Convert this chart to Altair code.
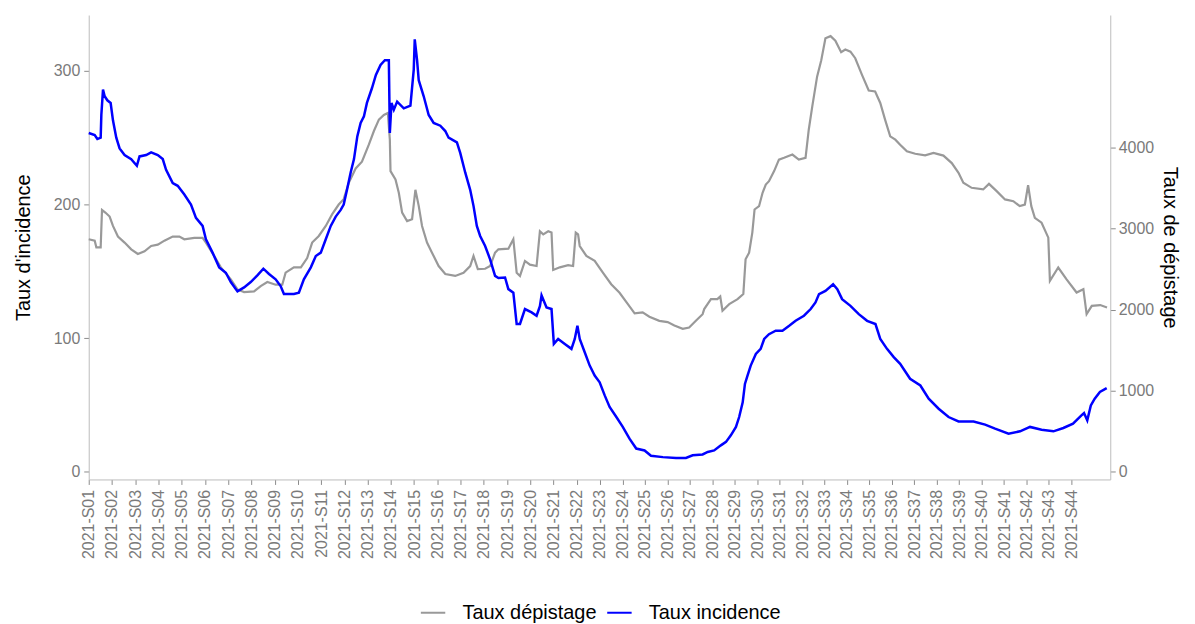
import altair as alt
import pandas as pd

# --- Données (jour 0 = début de 2021-S01) ---
jours_incidence = [0,1.8,2.6,3.6,3.8,4.3,4.8,5.6,6.6,7.3,
    8.3,9.3,10.8,12.8,14.5,15.3,17.3,18.8,20.8,22.3,
    23.3,25.3,26.8,28.8,30.8,32.3,34.3,35.3,37.3,39.3,
    41.3,42.8,44.8,46.8,48.8,50.8,52.6,54.3,56.3,57.8,
    58.8,61.8,63.3,64.8,66.9,68.4,69.9,71.4,72.9,74.4,
    75.9,76.8,77.8,78.9,79.9,80.9,81.9,82.9,83.8,85.3,
    86.5,87.9,89.2,90.4,90.7,91.2,91.9,92.9,94.9,96.9,
    97.9,98.2,98.9,99.4,100.9,102.4,103.9,105.9,107.4,108.4,
    110.9,111.9,113.4,114.9,115.9,116.9,117.9,119.4,120.9,122.4,
    123.4,125.4,126.4,127.9,128.9,129.9,131.4,133.4,134.9,135.9,
    136.4,137.9,139.4,140.1,141.4,143.4,145.4,146.4,147.2,147.9,
    149.4,150.9,152.4,153.9,155.5,157.0,159.1,161.1,163.2,165.3,
    167.9,169.9,173.6,177.7,180.8,182.9,186.0,187.6,189.6,191.7,
    193.3,194.8,196.4,197.4,198.5,199.2,200.0,201.0,202.6,204.1,
    205.2,206.7,208.8,210.9,213.0,215.0,217.6,219.7,221.2,222.3,
    224.3,226.7,228.0,229.5,232.1,234.7,237.3,239.9,241.4,243.5,
    245.6,247.6,250.7,253.9,256.5,259.6,262.7,265.8,270.5,274.1,
    277.2,281.4,285.0,288.1,291.7,295.4,298.5,301.5,304.1,304.9,
    305.9,307.0,308.2,309.8,311.9]
taux_incidence = [253.5,252,249,250,267,286,281,278,276,263,
    250,242,237,234,229,236,237,239,237,234,
    226,216,214,207.5,200,190,184,174,164,153,
    149,142,135,138,142,147,152,148,144,139,
    133,133,134,144,153,161.5,164,174,184,191,
    196,200,211,224,234,251,261,266,276,287,
    297,304.5,308,308,253.5,276,271,277,272,274,
    301,323.6,308,293,281,267,261,259,255,250,
    246.5,238.6,224,211,199,184,176.5,169,159,146.6,
    145,145.4,136.7,134,110.6,110.6,121.8,119.3,116.8,124,
    132,123,121.8,95.7,99.4,95.7,92,99.4,109.3,99.4,
    89.5,79.5,72,67,57,48.5,41,33.6,24.8,17.4,
    16,12,11,10.4,10.4,12.4,13,14.9,16,19.8,
    22.4,27.3,33.6,41,52,65.8,72,79.5,88.2,92,
    99.4,103,105.6,105.6,109.3,113,116.8,121.8,126.8,133,
    135.4,140.4,136.7,129.2,124.2,118,113,110.6,99.4,92,
    85.8,80.8,69.6,64.6,54.7,47.2,41,37.7,37.7,35.3,
    32.3,28.6,30.3,33.6,31.5,30.3,32.8,36,42.2,44,
    38.5,49.7,54.7,59.7,62.6]

jours_depistage = [0,1.8,2.3,3.6,4.0,5.0,6.3,7.3,8.8,10.8,
    12.8,14.8,16.8,18.8,20.8,22.8,25.3,27.3,28.8,31.8,
    34.3,35.3,37.8,39.8,42.8,44.8,46.8,49.8,51.8,53.8,
    56.3,58.3,59.3,61.8,63.9,65.8,67.3,69.3,71.4,73.3,
    75.3,76.8,78.3,80.4,82.3,84.4,85.9,87.4,88.9,90.1,
    90.7,90.9,92.4,93.4,94.4,95.9,97.4,98.4,99.4,100.4,
    101.9,103.4,105.4,107.4,110.4,112.9,114.9,115.9,117.2,119.4,
    120.9,122.4,123.4,126.4,127.9,128.9,129.9,131.4,132.9,134.9,
    135.9,136.9,138.4,139.4,139.9,141.9,144.4,145.9,146.7,147.4,
    147.9,149.9,152.4,154.9,157.5,160.1,162.7,164.8,167.3,169.4,
    172.5,175.1,177.2,179.8,181.8,183.9,186.0,186.5,188.6,190.6,
    191.5,192.2,194.3,196.9,198.7,199.4,200.5,201.5,202.2,203.6,
    204.7,205.7,206.7,208.3,209.8,211.4,214.0,216.0,218.1,219.1,
    220.2,221.7,223.0,224.3,225.9,227.4,229.2,230.5,232.1,233.6,
    235.7,237.8,239.8,241.4,242.9,244.5,246.1,247.6,249.7,252.3,
    255.4,258.0,261.1,263.7,265.8,267.3,269.9,273.5,275.3,277.7,
    280.3,282.9,284.9,286.5,287.5,288.5,289.6,291.7,293.8,294.3,
    296.9,299.5,302.6,304.7,305.7,307.3,309.9,312.0]
taux_depistage = [2866,2849,2767,2767,3228,3195,3146,3030,2899,2825,
    2742,2685,2718,2783,2800,2849,2899,2899,2866,2882,
    2882,2825,2660,2520,2372,2248,2215,2223,2289,2339,
    2306,2306,2454,2520,2520,2635,2825,2907,3030,3172,
    3294,3360,3558,3739,3821,4035,4200,4340,4397,4422,
    4093,3706,3602,3439,3195,3090,3113,3475,3278,3030,
    2825,2701,2536,2438,2414,2454,2536,2660,2497,2503,
    2536,2701,2742,2750,2866,2454,2414,2599,2553,2536,
    2965,2927,2965,2948,2487,2520,2548,2536,2948,2927,
    2783,2660,2599,2454,2312,2207,2067,1953,1965,1911,
    1861,1845,1803,1762,1779,1861,1943,2006,2128,2128,
    2161,1985,2067,2128,2191,2619,2701,2948,3233,3274,
    3439,3541,3582,3706,3847,3870,3910,3847,3870,4216,
    4503,4870,5073,5343,5369,5313,5172,5205,5178,5097,
    4892,4699,4687,4546,4340,4134,4093,4032,3949,3920,
    3900,3930,3897,3805,3684,3562,3500,3480,3549,3459,
    3357,3335,3274,3294,3533,3274,3129,3070,2886,2354,
    2518,2372,2210,2251,1943,2046,2055,2026]

semaines = [f"2021-S{i:02d}" for i in range(1, 45)]
jours_semaines = [7 * i for i in range(44)]
series = ["Taux dépistage", "Taux incidence"]
couleurs = ["#999999", "#0000ff"]

df_inc = pd.DataFrame({"jour": jours_incidence, "valeur": taux_incidence, "serie": series[1]})
df_dep = pd.DataFrame({"jour": jours_depistage, "valeur": taux_depistage, "serie": series[0]})

FONT = "Liberation Sans"
label_expr = "[" + ",".join(f"'{s}'" for s in semaines) + "][round(datum.value/7)]"

x_enc = alt.X(
    "jour:Q",
    scale=alt.Scale(domain=[0, 154, 301, 313], range=[0, 513, 986, 1025], nice=False, zero=False),
    axis=alt.Axis(values=jours_semaines, labelExpr=label_expr, labelAngle=-90, title=None,
                  labelPadding=5, tickSize=5, labelOverlap=False),
)

color_enc = alt.Color(
    "serie:N",
    scale=alt.Scale(domain=series, range=couleurs),
    legend=alt.Legend(orient="none", legendX=332, legendY=586, title=None, symbolType="stroke",
                      symbolSize=600, symbolStrokeWidth=2, labelFontSize=20, labelFont=FONT,
                      labelColor="#000000", labelOffset=16, columnPadding=6, direction="horizontal"),
)

k = 16.47
dom_left = [-5.7, 341.8]
dom_right = [dom_left[0] * k, dom_left[1] * k]

dep = alt.Chart(df_dep).mark_line(strokeWidth=2.2).encode(
    x=x_enc,
    y=alt.Y("valeur:Q", scale=alt.Scale(domain=dom_right, nice=False, zero=False),
            axis=alt.Axis(orient="right", title="Taux de dépistage", values=[0, 1000, 2000, 3000, 4000],
                          format="d", labelPadding=3, titlePadding=6, tickSize=5)),
    color=color_enc,
)

inc = alt.Chart(df_inc).mark_line(strokeWidth=2.5).encode(
    x=x_enc,
    y=alt.Y("valeur:Q", scale=alt.Scale(domain=dom_left, nice=False, zero=False),
            axis=alt.Axis(orient="left", title="Taux d'incidence", values=[0, 100, 200, 300],
                          labelPadding=4, titlePadding=20, tickSize=5)),
    color=color_enc,
)

chart = alt.layer(dep, inc).resolve_scale(y="independent").properties(
    width=1025, height=466,
    padding={"left": 5, "top": 6, "right": 7, "bottom": 0},
).configure_view(stroke=None).configure_axis(
    grid=False, domainColor="#bdbdbd", tickColor="#8c8c8c", labelColor="#7a7a7a",
    labelFont=FONT, labelFontSize=16, titleFont=FONT, titleFontSize=20,
    titleFontWeight="normal", titleColor="#000000",
)

chart.save("out.html", embed_options={"renderer": "svg", "actions": False})
